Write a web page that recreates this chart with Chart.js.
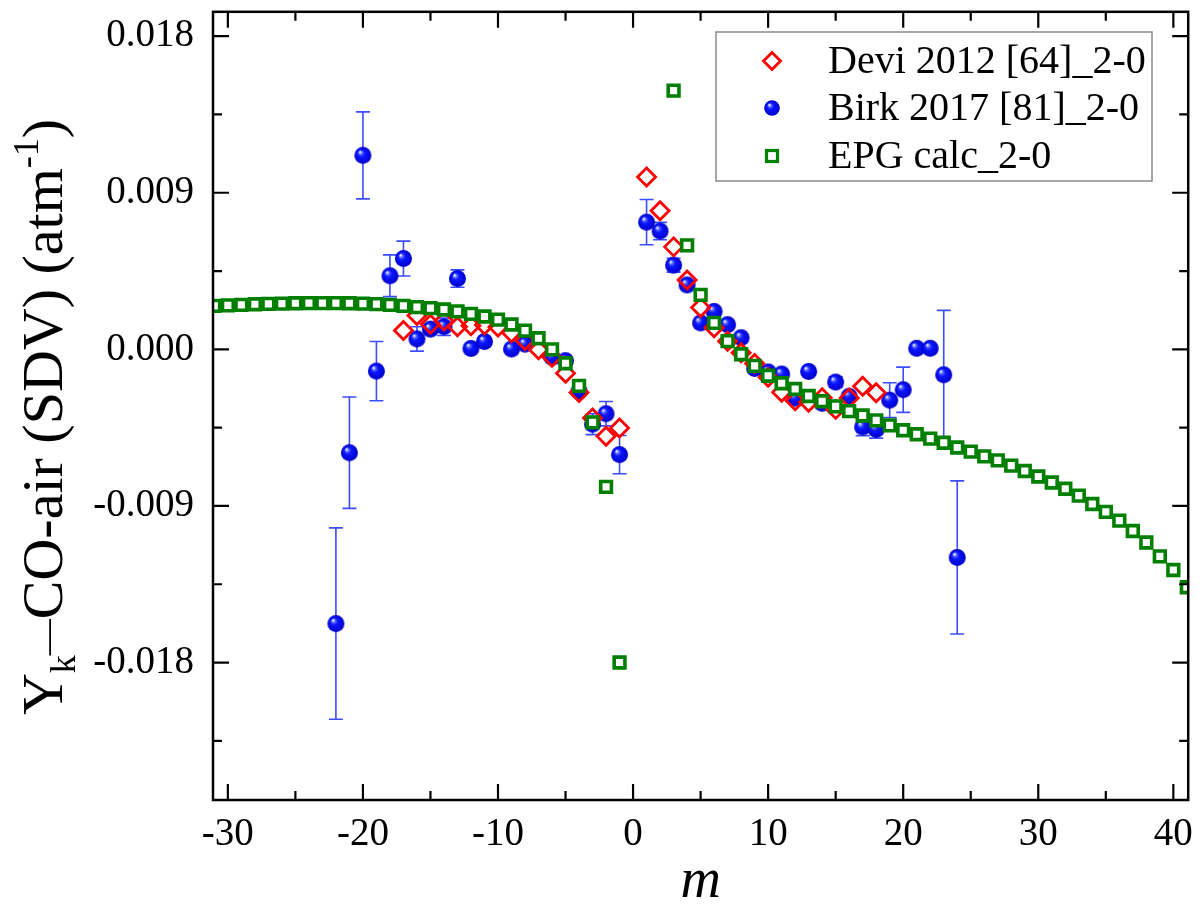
<!DOCTYPE html>
<html><head><meta charset="utf-8">
<script src="https://cdn.jsdelivr.net/npm/chart.js@4.4.1/dist/chart.umd.min.js"></script>
<style>html,body{margin:0;padding:0;background:#fff;}#wrap{width:1200px;height:916px;position:relative;}</style>
</head><body><div id="wrap"><canvas id="c" width="1200" height="916"></canvas></div>
<script>
// ---------- data ----------
const deviM = [-17,-16,-15,-14,-13,-12,-11,-10,-9,-8,-7,-6,-5,-4,-3,-2,-1,
  1,2,3,4,5,6,7,8,9,10,11,12,13,14,15,16,17,18];
const deviY = [0.00108,0.00195,0.00144,0.00163,0.00130,0.00135,0.00140,0.00128,0.00095,0.00051,-0.00002,-0.00046,-0.00137,-0.00248,-0.00395,-0.00500,-0.00452,
  0.00990,0.00797,0.00589,0.00399,0.00241,0.00124,0.00047,-0.00019,-0.00081,-0.00161,-0.00247,-0.00296,-0.00304,-0.00278,-0.00345,-0.00280,-0.00212,-0.00250];

const birkM = [-22,-21,-20,-19,-18,-17,-16,-15,-14,-13,-12,-11,-9,-8,-6,-5,-4,-3,-2,-1,
  1,2,3,4,5,6,7,8,9,10,11,12,13,14,15,16,17,18,19,20,21,22,23,24];
const birkY = [-0.01576,-0.00594,0.01115,-0.00125,0.00423,0.00522,0.00060,0.00116,0.00130,0.00407,0.00005,0.00045,0.00002,0.00030,-0.00046,-0.00065,-0.00240,-0.00430,-0.00370,-0.00605,
  0.00731,0.00680,0.00484,0.00370,0.00152,0.00218,0.00142,0.00067,-0.00110,-0.00130,-0.00142,-0.00280,-0.00127,-0.00310,-0.00188,-0.00270,-0.00446,-0.00460,-0.00292,-0.00232,0.00006,0.00006,-0.00146,-0.01196];
const birkErr = [0.0055,0.0032,0.0025,0.0017,0.0012,0.0010,0.0007,0,0.0005,0.0005,0,0,0,0,0,0,0,0.0006,0.0007,0.0011,
  0.0013,0.0005,0.0004,0.0002,0,0,0,0,0,0,0,0,0,0,0.0003,0,0.0005,0.0005,0.0010,0.0013,0,0,0.0037,0.0044];

const epgM = [-31,-30,-29,-28,-27,-26,-25,-24,-23,-22,-21,-20,-19,-18,-17,-16,-15,-14,-13,-12,-11,-10,-9,-8,-7,-6,-5,-4,-3,-2,-1,
  3,4,5,6,7,8,9,10,11,12,13,14,15,16,17,18,19,20,21,22,23,24,25,26,27,28,29,30,31,32,33,34,35,36,37,38,39,40,41];
const epgY = [0.00250,0.00253,0.00256,0.00259,0.00261,0.00263,0.00265,0.00266,0.00266,0.00266,0.00265,0.00263,0.00260,0.00256,0.00250,0.00243,0.00237,0.00229,0.00218,0.00204,0.00189,0.00171,0.00143,0.00108,0.00064,0.00000,-0.00080,-0.00210,-0.00420,-0.00790,-0.01800,
  0.01487,0.00598,0.00313,0.00152,0.00047,-0.00028,-0.00095,-0.00152,-0.00195,-0.00228,-0.00268,-0.00298,-0.00328,-0.00355,-0.00380,-0.00408,-0.00437,-0.00465,-0.00488,-0.00513,-0.00537,-0.00564,-0.00588,-0.00615,-0.00638,-0.00668,-0.00699,-0.00731,-0.00765,-0.00801,-0.00841,-0.00889,-0.00934,-0.00984,-0.01044,-0.01110,-0.01190,-0.01268,-0.01367];

const seriesLabels = ['Devi 2012 [64]_2-0', 'Birk 2017 [81]_2-0', 'EPG calc_2-0'];

const xTicks = [-30,-25,-20,-15,-10,-5,0,5,10,15,20,25,30,35,40];
const xTickLabels = ['-30','','-20','','-10','','0','','10','','20','','30','','40'];
const yTicks = [-0.0225,-0.018,-0.0135,-0.009,-0.0045,0,0.0045,0.009,0.0135,0.018];
const yTickLabels = ['','-0.018','','-0.009','','0.000','','0.009','','0.018'];

const xTitle = 'm';
const yTitleParts = [
  {t:'Y', k:'n'}, {t:'k', k:'sub'}, {t:'\u2014', k:'subr'}, {t:'CO-air (SDV) (atm', k:'n'}, {t:'-1', k:'sup'}, {t:')', k:'n'}
];

// ---------- styling ----------
const FONT = 'Liberation Serif';
const RED = '#ff0000', GREEN = '#007f00', BLUE = '#0000ff', ERR = '#3c4cff';

function makeSphere(r) {
  const s = Math.ceil(2 * r + 2);
  const c = document.createElement('canvas');
  c.width = c.height = s;
  const g = c.getContext('2d');
  const cx = s / 2, cy = s / 2;
  const grd = g.createRadialGradient(cx - r * 0.35, cy - r * 0.4, r * 0.05, cx, cy, r);
  grd.addColorStop(0, '#f2f5ff');
  grd.addColorStop(0.18, '#5a68ff');
  grd.addColorStop(0.4, '#0a16ff');
  grd.addColorStop(1, '#0000c8');
  g.fillStyle = grd;
  g.beginPath(); g.arc(cx, cy, r, 0, 2 * Math.PI); g.fill();
  return c;
}
const sphere = makeSphere(8.5);
const sphereLeg = makeSphere(7.8);

const toPts = (ms, ys) => ms.map((m, i) => ({x: m, y: ys[i]}));

const errorBars = {
  id: 'errorBars',
  beforeDatasetsDraw(chart) {
    const {ctx, scales: {x, y}} = chart;
    ctx.save();
    ctx.strokeStyle = ERR; ctx.lineWidth = 1.6;
    birkM.forEach((m, i) => {
      const e = birkErr[i];
      if (!e) return;
      const px = x.getPixelForValue(m);
      const y1 = y.getPixelForValue(birkY[i] + e);
      const y2 = y.getPixelForValue(birkY[i] - e);
      ctx.beginPath();
      ctx.moveTo(px, y1); ctx.lineTo(px, y2);
      ctx.moveTo(px - 7, y1); ctx.lineTo(px + 7, y1);
      ctx.moveTo(px - 7, y2); ctx.lineTo(px + 7, y2);
      ctx.stroke();
    });
    ctx.restore();
  }
};

const frameAndLegend = {
  id: 'frameAndLegend',
  afterDatasetsDraw(chart) {
    const {ctx, chartArea: a, scales: {x, y}} = chart;
    ctx.save();
    ctx.strokeStyle = '#000'; ctx.lineWidth = 2.5;
    ctx.strokeRect(a.left, a.top, a.right - a.left, a.bottom - a.top);
    ctx.lineWidth = 2.2;
    ctx.beginPath();
    xTicks.forEach((v, i) => {
      const L = xTickLabels[i] ? 16 : 9;
      const px = x.getPixelForValue(v);
      ctx.moveTo(px, a.bottom); ctx.lineTo(px, a.bottom - L);
      ctx.moveTo(px, a.top); ctx.lineTo(px, a.top + L);
    });
    yTicks.forEach((v, i) => {
      const L = yTickLabels[i] ? 16 : 9;
      const py = y.getPixelForValue(v);
      ctx.moveTo(a.left, py); ctx.lineTo(a.left + L, py);
      ctx.moveTo(a.right, py); ctx.lineTo(a.right - L, py);
    });
    ctx.stroke();

    // legend
    const bx = 716, by = 32, bw = 436, bh = 149;
    ctx.fillStyle = '#fff';
    ctx.fillRect(bx, by, bw, bh);
    ctx.strokeStyle = '#8a8a8a'; ctx.lineWidth = 1.5;
    ctx.strokeRect(bx, by, bw, bh);
    const mx = 772, rows = [61, 108, 156];
    ctx.strokeStyle = RED; ctx.lineWidth = 2.8;
    ctx.beginPath();
    const r = 8.5, cy0 = rows[0];
    ctx.moveTo(mx, cy0 - r); ctx.lineTo(mx + r, cy0); ctx.lineTo(mx, cy0 + r); ctx.lineTo(mx - r, cy0); ctx.closePath();
    ctx.stroke();
    ctx.drawImage(sphereLeg, mx - sphereLeg.width / 2, rows[1] - sphereLeg.height / 2);
    ctx.strokeStyle = GREEN; ctx.lineWidth = 3.2; ctx.fillStyle = '#fff';
    ctx.fillRect(mx - 5.5, rows[2] - 5.5, 11, 11);
    ctx.strokeRect(mx - 5.5, rows[2] - 5.5, 11, 11);
    ctx.fillStyle = '#000';
    ctx.font = '40px "' + FONT + '"';
    ctx.textBaseline = 'middle'; ctx.textAlign = 'left';
    seriesLabels.forEach((t, i) => ctx.fillText(t, 828, rows[i] + 1));
    ctx.restore();
  },
  afterDraw(chart) {
    const {ctx} = chart;
    const F = 58, S = 36;
    ctx.save();
    ctx.translate(43, 417);
    ctx.rotate(-Math.PI / 2);
    ctx.fillStyle = '#000';
    ctx.textBaseline = 'alphabetic'; ctx.textAlign = 'left';
    const fontOf = k => (k === 'n' ? F : S) + 'px "' + FONT + '"';
    let total = 0;
    const widths = yTitleParts.map(p => { ctx.font = fontOf(p.k); const w = ctx.measureText(p.t).width; total += w; return w; });
    let cx = -total / 2;
    const base = F * 0.33;
    yTitleParts.forEach((p, i) => {
      ctx.font = fontOf(p.k);
      let dy = base;
      if (p.k === 'sub') dy = base + F * 0.22;
      if (p.k === 'subr') dy = base - F * 0.05;
      if (p.k === 'sup') dy = base - F * 0.42;
      ctx.fillText(p.t, cx, dy);
      cx += widths[i];
    });
    ctx.restore();
  }
};

new Chart(document.getElementById('c'), {
  type: 'scatter',
  data: {
    datasets: [
      {label: seriesLabels[2], data: toPts(epgM, epgY), order: 0, clip: 0,
       pointStyle: 'rect', pointRadius: 7.6, pointBorderWidth: 3.6,
       pointBorderColor: GREEN, pointBackgroundColor: '#ffffff', borderColor: GREEN, backgroundColor: '#fff'},
      {label: seriesLabels[0], data: toPts(deviM, deviY), order: 1, clip: 0,
       pointStyle: 'rectRot', pointRadius: 9, pointBorderWidth: 2.8,
       pointBorderColor: RED, pointBackgroundColor: 'rgba(0,0,0,0)', borderColor: RED, backgroundColor: 'rgba(0,0,0,0)'},
      {label: seriesLabels[1], data: toPts(birkM, birkY), order: 2, clip: 0,
       pointStyle: sphere, pointRadius: 8, borderColor: BLUE, backgroundColor: BLUE}
    ]
  },
  options: {
    responsive: false, animation: false, events: [],
    layout: {padding: {left: 0, right: 9, top: 5, bottom: 0}},
    plugins: {legend: {display: false}, tooltip: {enabled: false}},
    scales: {
      x: {
        type: 'linear', min: -31.1, max: 41.1,
        grid: {display: false, drawTicks: false}, border: {display: false},
        afterBuildTicks: s => { s.ticks = xTicks.map(v => ({value: v})); },
        afterFit: s => { s.height = 116; s.paddingLeft = 0; s.paddingRight = 0; },
        ticks: {padding: 11, color: '#000', font: {family: FONT, size: 39}, maxRotation: 0, autoSkip: false,
                callback: (v, i) => xTickLabels[i]},
        title: {display: true, text: xTitle, color: '#000', font: {family: FONT, size: 56, style: 'italic'}, padding: {top: 0, bottom: 0}}
      },
      y: {
        type: 'linear', min: -0.0259, max: 0.0194,
        grid: {display: false, drawTicks: false}, border: {display: false},
        afterBuildTicks: s => { s.ticks = yTicks.map(v => ({value: v})); },
        afterFit: s => { s.width = 213; s.paddingTop = 0; s.paddingBottom = 0; },
        ticks: {padding: 19, color: '#000', font: {family: FONT, size: 39}, autoSkip: false,
                callback: (v, i) => yTickLabels[i]}
      }
    }
  },
  plugins: [errorBars, frameAndLegend]
});
</script>
</body></html>
